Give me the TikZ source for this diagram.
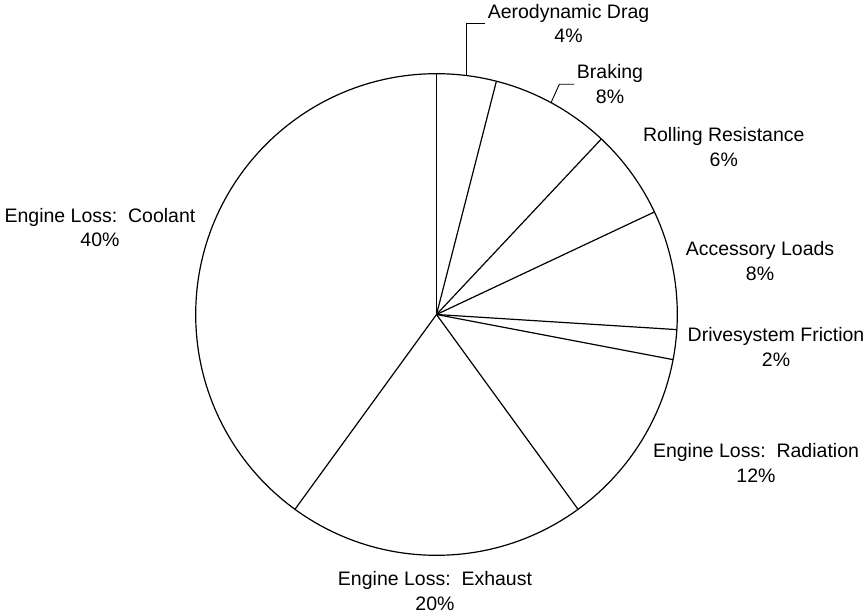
\documentclass[tikz,border=0pt]{standalone}
\usepackage{fontspec}
\setmainfont{Liberation Sans}
\usetikzlibrary{calc}
\begin{document}
\begin{tikzpicture}[x=1pt,y=1pt,
  slice/.style={line width=1.2pt, draw=black, line join=round},
  lbl/.style={font=\fontsize{19.5}{24.5}\selectfont, align=center, anchor=base, inner sep=2.5pt},
  leader/.style={line width=0.9pt, draw=black}]
\useasboundingbox (0,0) rectangle (867,613);
\coordinate (O) at (436.5,298.5);
\draw[slice] (O) circle (240.8);
\foreach \a [count=\i] in {90,75.6,46.8,25.2,-3.6,-10.8,-54,-126}{
  \coordinate (e\i) at ($(O)+(\a:240.8)$);
  \draw[slice] (O) -- (e\i);
}
% labels (anchored at the baseline of the second line)
\node[lbl] (aero) at (568.5,570.2) {Aerodynamic Drag\\4\%};
\node[lbl] (brake) at (610,509.5) {Braking\\8\%};
\node[lbl] (roll) at (723.8,446.8) {Rolling Resistance\\6\%};
\node[lbl] (acc) at (760,332.8) {Accessory Loads\\8\%};
\node[lbl] (drive) at (776,246.8) {Drivesystem Friction\\2\%};
\node[lbl] (rad) at (756,130.8) {Engine Loss:\ \ Radiation\\12\%};
\node[lbl] (exh) at (435,2.8) {Engine Loss:\ \ Exhaust\\20\%};
\node[lbl] (cool) at (100,366.2) {Engine Loss:\ \ Coolant\\40\%};
% leaders
\coordinate (pa) at ($(O)+(82.8:240.8)$);
\coordinate (pb) at ($(O)+(61.6:240.8)$);
\coordinate (bk) at (559.3,528.7);
\draw[leader] (pa) |- (aero.west);
\draw[leader] (pb) -- (bk) -- (brake.west);
\end{tikzpicture}
\end{document}
